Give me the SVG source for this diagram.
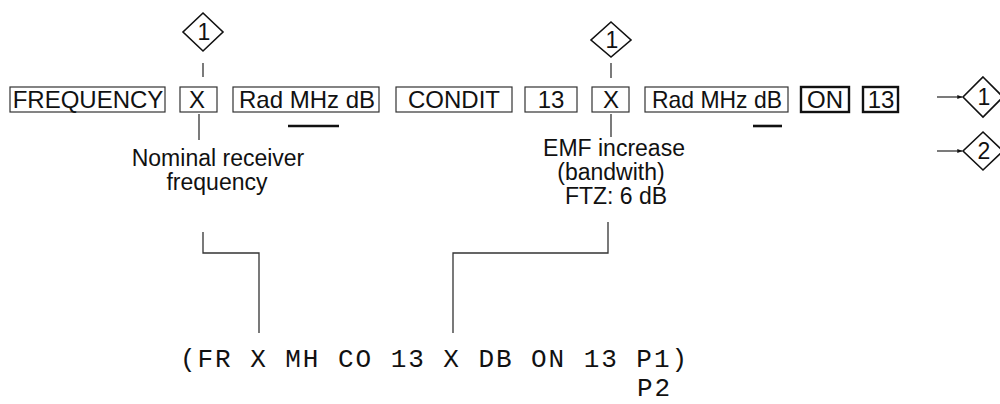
<svg xmlns="http://www.w3.org/2000/svg" width="1000" height="404" viewBox="0 0 1000 404">
<defs>
<style>
.bg{fill:#fff}
.box{fill:none;stroke:#333;stroke-width:1.2}
.boxb{fill:none;stroke:#111;stroke-width:2.4}
.t{font-family:"Liberation Sans",Arial,sans-serif;font-size:24px;fill:#111;text-anchor:middle}
.lbl{font-family:"Liberation Sans",Arial,sans-serif;font-size:23px;fill:#111;text-anchor:middle}
.dn{font-family:"Liberation Sans",Arial,sans-serif;font-size:23px;fill:#111;text-anchor:middle}
.mono{font-family:"Liberation Mono","Courier New",monospace;font-size:26px;letter-spacing:1.95px;fill:#111}
.dia{fill:#fff;stroke:#111;stroke-width:1.6}
.ln{fill:none;stroke:#333;stroke-width:1.3}
.ul{stroke:#111;stroke-width:2.6}
</style>
<marker id="ah" viewBox="0 0 10 10" refX="9" refY="5" markerWidth="4" markerHeight="4" orient="auto">
<path d="M0,1 L10,5 L0,9 z" fill="#111"/>
</marker>
</defs>
<rect class="bg" x="0" y="0" width="1000" height="404"/>

<g id="connectors">
<line class="ln" x1="203" y1="63" x2="203" y2="77"/>
<line class="ln" x1="611" y1="63" x2="611" y2="78"/>
<line class="ln" x1="199" y1="114" x2="199" y2="140"/>
<line class="ln" x1="611" y1="114" x2="611" y2="137"/>
<polyline class="ln" points="203,232 203,253 259,253 259,333"/>
<polyline class="ln" points="608,222 608,253 453,253 453,333"/>
<line class="ln" x1="937" y1="97" x2="962" y2="97" stroke-width="2" marker-end="url(#ah)"/>
<line class="ln" x1="937" y1="151" x2="962" y2="151" stroke-width="2" marker-end="url(#ah)"/>
</g>

<g id="diamond-top-1">
<polygon class="dia" points="203,13 223,32 203,51 183,32"/>
<text class="dn" x="204" y="40">1</text>
</g>
<g id="diamond-top-2">
<polygon class="dia" points="611,22 631,40 611,57 591,40"/>
<text class="dn" x="612" y="48">1</text>
</g>

<g id="box-frequency">
<rect class="box" x="10" y="87" width="155" height="25"/>
<text class="t" x="88" y="108">FREQUENCY</text>
</g>
<g id="box-x1">
<rect class="box" x="180" y="87" width="37" height="25"/>
<text class="t" x="197" y="108">X</text>
</g>
<g id="box-rad1">
<rect class="box" x="233" y="87" width="146" height="25"/>
<text class="t" x="307" y="108">Rad MHz dB</text>
<line class="ul" x1="288" y1="126" x2="339" y2="126"/>
</g>
<g id="box-condit">
<rect class="box" x="396" y="87" width="116" height="25"/>
<text class="t" x="454" y="108">CONDIT</text>
</g>
<g id="box-13a">
<rect class="box" x="525" y="87" width="52" height="25"/>
<text class="t" x="551" y="108">13</text>
</g>
<g id="box-x2">
<rect class="box" x="592" y="87" width="37" height="25"/>
<text class="t" x="611" y="108">X</text>
</g>
<g id="box-rad2">
<rect class="box" x="645" y="87" width="143" height="25"/>
<text class="t" x="717" y="108" textLength="130" lengthAdjust="spacingAndGlyphs">Rad MHz dB</text>
<line class="ul" x1="753" y1="126" x2="782" y2="126"/>
</g>
<g id="box-on">
<rect class="boxb" x="801" y="87" width="48" height="25"/>
<text class="t" x="825" y="108">ON</text>
</g>
<g id="box-13b">
<rect class="boxb" x="863" y="87" width="35" height="25"/>
<text class="t" x="881" y="108">13</text>
</g>

<g id="diamond-right-1">
<polygon class="dia" points="983,77 1003,97 983,117 963,97"/>
<text class="dn" x="984" y="105">1</text>
</g>
<g id="diamond-right-2">
<polygon class="dia" points="983,132 1003,151 983,170 963,151"/>
<text class="dn" x="984" y="159">2</text>
</g>

<g id="label-nominal">
<text class="lbl" x="218" y="166">Nominal receiver</text>
<text class="lbl" x="217" y="190">frequency</text>
</g>
<g id="label-emf">
<text class="lbl" x="614" y="156">EMF increase</text>
<text class="lbl" x="611" y="180">(bandwith)</text>
<text class="lbl" x="616" y="204">FTZ: 6 dB</text>
</g>

<g id="code">
<text class="mono" x="180" y="367" xml:space="preserve">(FR X MH CO 13 X DB ON 13 P1)</text>
<text class="mono" x="637" y="396">P2</text>
</g>
</svg>
